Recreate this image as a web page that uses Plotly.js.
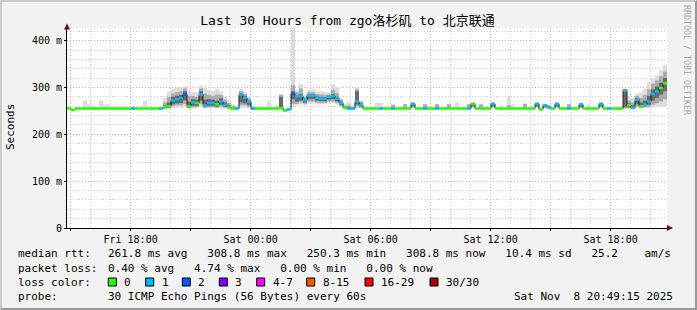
<!DOCTYPE html>
<html><head><meta charset="utf-8">
<script src="https://cdn.plot.ly/plotly-3.0.1.min.js"></script>
<style>
html,body{margin:0;padding:0;background:#f2f2f2;}
#wrap{position:relative;width:697px;height:310px;overflow:hidden;}
#chart{width:697px;height:310px;}
#frame{position:absolute;left:0;top:0;width:697px;height:310px;box-sizing:border-box;border-top:2px solid #cbcbcb;border-left:2px solid #cbcbcb;border-right:2px solid #999;border-bottom:2px solid #999;pointer-events:none;}
</style></head><body>
<div id="wrap"><div id="chart"></div><div id="frame"></div></div>
<script>
// ---------------- data ----------------
const titleText = 'Last 30 Hours from zgo洛杉矶 to 北京联通';
const startUTC = [2025, 10, 7, 14, 49, 15];   // Fri Nov 7 14:49:15
const spanHours = 30;
const stepMinutes = 12;

const tickTimes = ['2025-11-07 15:00:00','2025-11-07 18:00:00','2025-11-07 21:00:00','2025-11-08 00:00:00','2025-11-08 03:00:00','2025-11-08 06:00:00','2025-11-08 09:00:00','2025-11-08 12:00:00','2025-11-08 15:00:00','2025-11-08 18:00:00'];
const tickLabels = ['', 'Fri 18:00', '', 'Sat 00:00', '', 'Sat 06:00', '', 'Sat 12:00', '', 'Sat 18:00'];
const yTickVals = [0, 100, 200, 300, 400];
const yTickLabels = ['0', '100 m', '200 m', '300 m', '400 m'];

// median rtt (ms) per 12-minute step
const median = [
 255,252,255,255,255,255,255,255,255,255,
 255,255,255,255,255,255,255,255,255,255,
 255,255,255,255,259,260,272,275,277,285,
 260,268,267,285,262,267,267,264,270,263,
 258,255,255,285,278,270,255,255,255,255,
 255,255,255,256,251,253,287,281,282,273,
 283,283,278,276,276,280,282,276,267,257,
 255,255,270,262,255,255,255,255,255,255,
 255,255,255,255,255,255,265,255,255,255,
 255,255,255,255,255,255,255,255,255,255,
 255,265,255,255,255,255,265,255,255,255,
 255,255,255,255,255,255,255,265,253,262,
 258,255,265,255,255,255,255,255,264,255,
 255,255,255,265,255,255,255,255,255,294,
 262,257,274,260,263,270,286,291,299,309];

// lost pings (of 30) per step
const loss = [
 0,0,0,0,0,0,0,0,0,0,
 0,0,0,0,0,0,1,0,0,0,
 0,0,0,1,0,0,1,1,1,2,
 0,1,0,1,1,1,1,0,1,1,
 0,0,1,1,1,1,1,0,0,0,
 0,0,0,0,0,1,2,1,1,1,
 1,1,1,1,1,1,1,1,1,0,
 1,1,1,1,0,0,0,0,1,0,
 0,1,0,0,0,0,1,0,0,1,
 0,0,1,0,0,0,0,0,0,0,
 1,0,0,0,0,0,1,0,0,0,
 0,0,0,0,0,0,0,1,0,1,
 1,0,1,0,0,1,0,0,1,0,
 0,0,0,1,0,1,0,0,0,1,
 0,1,1,0,1,1,1,1,0,0];

// smoke percentiles (ms)
const smokeMin = [
 253,250,253,253,253,253,253,253,253,253,
 253,253,253,253,253,253,253,253,253,253,
 253,253,253,253,253,254,256,257,257,258,
 254,255,255,258,255,255,256,255,256,255,
 254,253,253,256,256,255,253,253,253,253,
 253,253,253,253,249,251,258,262,265,262,
 266,266,264,264,264,266,266,264,258,254,
 253,253,256,255,253,253,253,253,253,253,
 253,253,253,253,253,253,256,253,253,253,
 253,253,253,253,253,253,253,253,253,253,
 253,256,253,253,253,253,256,253,253,253,
 253,253,253,253,253,253,253,256,252,255,
 254,253,256,253,253,253,253,253,255,253,
 253,253,253,256,253,253,253,253,253,254,
 254,254,256,255,256,256,257,258,258,260];
const smokeP10 = [
 254,251,254,254,254,254,254,254,254,254,
 254,254,254,254,254,254,254,254,254,254,
 254,254,254,254,255,256,260,262,262,265,
 256,258,258,265,257,258,258,257,259,257,
 255,254,254,262,262,259,254,254,254,254,
 254,254,254,255,250,252,265,265,268,265,
 270,270,268,267,267,270,270,267,261,255,
 254,254,260,257,254,254,254,254,254,254,
 254,254,254,254,254,254,258,254,254,254,
 254,254,254,254,254,254,254,254,254,254,
 254,258,254,254,254,254,258,254,254,254,
 254,254,254,254,254,254,254,258,252.5,257,
 255,254,258,254,254,254,254,254,257,254,
 254,254,254,258,254,254,254,254,254,256,
 256,255,260,256,258,259,263,266,270,275];
const smokeP25 = [
 254.5,251.5,254.5,254.5,254.5,254.5,254.5,254.5,254.5,254.5,
 254.5,254.5,254.5,254.5,254.5,254.5,254.5,254.5,254.5,254.5,
 254.5,254.5,254.5,254.5,256,257,264,266,267,272,
 257,261,261,272,259,261,261,259,263,259,
 256,254.5,254.5,268,266,262,254.5,254.5,254.5,254.5,
 254.5,254.5,254.5,258,250.5,252.5,275,270,272,268,
 275,275,272,271,271,274,275,271,263,255.5,
 254.5,254.5,264,259,254.5,254.5,254.5,254.5,254.5,254.5,
 254.5,254.5,254.5,254.5,254.5,254.5,260,254.5,254.5,254.5,
 254.5,254.5,254.5,254.5,254.5,254.5,254.5,254.5,254.5,254.5,
 254.5,260,254.5,254.5,254.5,254.5,260,254.5,254.5,254.5,
 254.5,254.5,254.5,254.5,254.5,254.5,254.5,260,253,258,
 256,254.5,260,254.5,254.5,254.5,254.5,254.5,259,254.5,
 254.5,254.5,254.5,260,254.5,254.5,254.5,254.5,254.5,258,
 258,256,265,258,260,263,272,278,285,292];
const smokeP75 = [
 256,253,256,256,256,256,256,256,256,256,
 256,256,256,256,256,256,256,256,256,256,
 256,256,256,256,262,268,280,282,284,292,
 270,275,274,292,274,275,274,272,277,268,
 262,257,256,288,282,273,256,256,256,256,
 256,256,256,280,252,254,292,284,286,276,
 286,286,281,279,279,282,286,280,270,259,
 258,256,292,266,256,256,256,256,256,256,
 256,256,256,256,256,256,266,256,256,256,
 256,256,256,256,256,256,256,256,256,256,
 256,266,256,256,256,256,266,256,256,256,
 256,256,256,256,256,256,256,266,254,263,
 260,256,266,256,256,256,256,256,265,256,
 256,256,256,266,256,256,256,256,256,292,
 266,262,277,268,272,282,296,302,310,320];
const smokeP90 = [
 256.5,253.5,256.5,256.5,256.5,256.5,256.5,256.5,256.5,256.5,
 256.5,256.5,256.5,256.5,256.5,256.5,256.5,256.5,256.5,256.5,
 256.5,256.5,256.5,256.5,268,280,287,290,292,298,
 282,282,280,298,287,284,282,285,284,274,
 267,260,258,292,286,277,258,256.5,256.5,256.5,
 256.5,256.5,256.5,284,253,255,305,290,298,280,
 290,290,286,285,284,285,295,288,274,261,
 262,258,296,270,256.5,256.5,256.5,256.5,256.5,256.5,
 256.5,263,256.5,256.5,264,256.5,267,256.5,256.5,264,
 256.5,256.5,264,256.5,256.5,264,256.5,256.5,256.5,256.5,
 264,267,256.5,264,256.5,256.5,267,256.5,256.5,256.5,
 262,256.5,256.5,256.5,265,256.5,256.5,267,256,264,
 262,256.5,267,256.5,256.5,264,256.5,256.5,266,256.5,
 256.5,256.5,256.5,267,256.5,256.5,256.5,256.5,256.5,294,
 272,268,282,278,284,296,308,315,324,334];
const smokeMax = [
 257,254,257,257,272,264,262,257,272,264,
 264,257,257,257,257,257,257,257,257,272,
 257,257,257,257,278,291,297,300,301,303,
 294,291,290,305,300,295,293,297,292,280,
 274,264,262,297,290,282,262,257,257,257,
 270,257,262,286,254,256,440,295,307,285,
 295,296,292,292,290,288,307,300,278,265,
 268,262,299,272,257,257,257,267,267,257,
 257,264,257,257,265,257,268,257,257,265,
 257,257,265,257,257,265,257,268,257,257,
 265,268,257,265,257,257,268,257,262,257,
 282,264,257,257,266,257,257,268,258,266,
 264,257,268,257,257,265,257,257,267,257,
 264,257,257,268,257,257,257,257,257,296,
 280,278,287,290,297,312,320,327,337,348];

const lossThresholds = [0, 1, 2, 3, 7, 15, 29, 30];
const lossLabels = ['0', '1', '2', '3', '4-7', '8-15', '16-29', '30/30'];
const lossColors = ['#26ff00', '#00b8ff', '#0059ff', '#7e00ff', '#ff00ff', '#ff5500', '#ff0000', '#a00000'];

const legendRtt = 'median rtt:';
const legendRttText = '261.8 ms avg   308.8 ms max   250.3 ms min   308.8 ms now   10.4 ms sd   25.2    am/s';
const legendLoss = 'packet loss:';
const legendLossText = '0.40 % avg   4.74 % max   0.00 % min   0.00 % now';
const legendColor = 'loss color:';
const legendProbe = 'probe:';
const legendProbeText = '30 ICMP Echo Pings (56 Bytes) every 60s';
const stampText = 'Sat Nov  8 20:49:15 2025';
const vendorText = 'RRDTOOL / TOBI OETIKER';

// ---------------- build ----------------
const MONO = 'DejaVu Sans Mono, Noto Sans CJK SC, monospace';
const T0 = Date.UTC.apply(null, startUTC);
const STEP = stepMinutes * 60000;
const T1 = T0 + spanHours * 3600000;
const fmt = ms => new Date(ms).toISOString().replace('T', ' ').replace('Z', '');
const n = median.length;
const lefts = [], centers = [];
for (let i = 0; i < n; i++) { lefts.push(fmt(T0 + i * STEP)); centers.push(fmt(T0 + i * STEP + STEP / 2)); }
const rights = lefts.slice(1).concat([fmt(T0 + n * STEP)]);

function band(lo, hi, color) {
  return {
    type: 'bar', x: centers, base: lo, y: hi.map((v, i) => v - lo[i]), width: STEP,
    marker: {color: color, line: {width: 0}}, hoverinfo: 'skip', showlegend: false
  };
}
const traces = [
  band(smokeMin, smokeMax, '#dcdcdc'),
  band(smokeP10, smokeP90, '#ababab'),
  band(smokeP25, smokeP75, '#6a6a6a'),
  {type: 'scatter', mode: 'lines', x: lefts.concat([rights[n - 1]]), y: median.concat([median[n - 1]]),
   line: {shape: 'hv', color: '#202020', width: 1}, hoverinfo: 'skip', showlegend: false}
];
function bucketOf(l) { for (let k = 0; k < lossThresholds.length; k++) if (l <= lossThresholds[k]) return k; return lossThresholds.length - 1; }
const HALF = 2.7; // half thickness of the loss-coloured median band (ms)
lossColors.forEach((c, k) => {
  const xs = [], ys = [];
  for (let i = 0; i < n; i++) if (bucketOf(loss[i]) === k) {
    const lo = median[i] - HALF, hi = median[i] + HALF;
    xs.push(lefts[i], rights[i], rights[i], lefts[i], lefts[i], null);
    ys.push(lo, lo, hi, hi, lo, null);
  }
  if (xs.length) traces.push({type: 'scatter', mode: 'lines', x: xs, y: ys, fill: 'toself', fillcolor: c,
    connectgaps: false, line: {color: c, width: 0}, hoverinfo: 'skip', showlegend: false});
});

// pixel helpers (plot area: x 67..667, y 28..228)
const PL = 67, PW = 600, PB = 228, PH = 200;
const px = x => (x - PL) / PW, py = y => (PB - y) / PH;

const annotations = [];
function txt(x, y, s, opt) {
  annotations.push(Object.assign({xref: 'paper', yref: 'paper', x: px(x), y: py(y), text: s.replace(/ /g, '\u00a0'),
    showarrow: false, xanchor: 'left', yanchor: 'middle', font: {family: MONO, size: 11, color: '#000'}}, opt || {}));
}
txt(16, 254, legendRtt); txt(106.3, 254, legendRttText);
txt(16, 268, legendLoss); txt(106.3, 268, legendLossText);
txt(16, 282, legendColor);
txt(16, 296, legendProbe); txt(106.3, 296, legendProbeText); txt(512.3, 296, stampText);
txt(10, 127, 'Seconds', {xanchor: 'center', textangle: -90, font: {family: MONO, size: 11, color: '#000'}});
txt(687, 60, vendorText, {xanchor: 'center', textangle: 90, font: {family: MONO, size: 8.3, color: '#aaaaaa'}});

const boxX = [108.3, 145.7, 182.3, 219.3, 256.7, 306.7, 365, 430];
const shapes = [];
boxX.forEach((bx, k) => {
  shapes.push({type: 'rect', xref: 'paper', yref: 'paper', x0: px(bx), x1: px(bx + 8), y0: py(286), y1: py(278),
    fillcolor: lossColors[k], line: {color: '#000', width: 1}});
  txt(bx + 14, 282, lossLabels[k]);
});
// axis arrows
annotations.push({xref: 'paper', yref: 'paper', x: 0, y: py(23.5), ax: 0, ay: 5, text: '', showarrow: true,
  arrowhead: 2, arrowsize: 1, arrowwidth: 1.2, arrowcolor: '#800000'});
annotations.push({xref: 'paper', yref: 'paper', x: px(673), y: 0, ax: -7, ay: 0, text: '', showarrow: true,
  arrowhead: 2, arrowsize: 1, arrowwidth: 1.2, arrowcolor: '#800000'});

const MAJ = '#eba3a3', MIN = '#cdcdcd', DASH = '1px,2px';
const layout = {
  width: 697, height: 310, margin: {l: PL, r: 697 - PL - PW, t: PB - PH, b: 310 - PB, pad: 0},
  paper_bgcolor: '#f2f2f2', plot_bgcolor: '#ffffff', barmode: 'overlay', hovermode: false, showlegend: false,
  title: {text: titleText, font: {family: MONO, size: 13, color: '#000'}, xref: 'container', yref: 'container',
    x: 347.5 / 697, xanchor: 'center', y: 1 - 20.5 / 310, yanchor: 'middle'},
  xaxis: {type: 'date', range: [fmt(T0), fmt(T1)], tickmode: 'array', tickvals: tickTimes, ticktext: tickLabels,
    showgrid: true, gridcolor: MAJ, griddash: DASH, gridwidth: 1, zeroline: false,
    showline: true, linecolor: '#000', linewidth: 1, ticks: 'outside', ticklen: 2, tickcolor: '#000',
    tickfont: {family: MONO, size: 10, color: '#000'},
    minor: {tick0: '2025-11-07 15:00:00', dtick: 3600000, showgrid: true, gridcolor: MIN, griddash: DASH, gridwidth: 1, ticks: ''}},
  yaxis: {range: [0, 427], tickmode: 'array', tickvals: yTickVals, ticktext: yTickLabels,
    showgrid: true, gridcolor: MAJ, griddash: DASH, gridwidth: 1, zeroline: false,
    showline: true, linecolor: '#000', linewidth: 1, ticks: 'outside', ticklen: 2, tickcolor: '#000',
    tickfont: {family: MONO, size: 10, color: '#000'},
    minor: {tick0: 0, dtick: 20, showgrid: true, gridcolor: MIN, griddash: DASH, gridwidth: 1, ticks: ''}},
  annotations: annotations, shapes: shapes
};
Plotly.newPlot('chart', traces, layout, {staticPlot: true, displayModeBar: false});
</script>
</body></html>
